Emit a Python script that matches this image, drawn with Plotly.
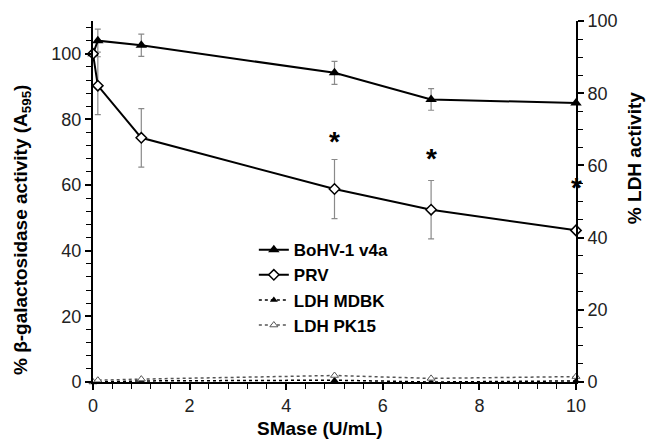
import plotly.graph_objects as go

# ---- data ----
conc = [0, 0.1, 1, 5, 7, 10]
bohv = [100, 104, 102.6, 94.2, 86.1, 85.0]
bohv_err = [0, 3.5, 3.4, 3.5, 3.3, 0]
prv = [100, 90.3, 74.4, 58.8, 52.5, 46.2]
prv_err = [0, 8.8, 8.9, 9.0, 8.9, 0]
ldh_mdbk = [0, 0, 0.3, 0.5, 0, 0.3]
ldh_pk15 = [0, 0.5, 0.8, 1.8, 1.0, 1.5]
star_x = [5, 7, 10]
star_y = [74, 68.8, 60]

FONT = "Liberation Sans, Arial, sans-serif"
ERRC = "#8a8a8a"

fig = go.Figure()

fig.add_trace(go.Scatter(
    x=conc, y=bohv, name="BoHV-1 v4a", mode="lines+markers", legendgroup="a",
    line=dict(color="black", width=2),
    marker=dict(symbol="triangle-up", size=10, color="black"),
    error_y=dict(type="data", array=bohv_err, color=ERRC, thickness=1.2, width=3),
    cliponaxis=False, yaxis="y"))

fig.add_trace(go.Scatter(
    x=conc, y=prv, name="PRV", mode="lines+markers", legendgroup="b",
    line=dict(color="black", width=2),
    marker=dict(symbol="diamond", size=8, color="white", line=dict(color="black", width=1.5)),
    error_y=dict(type="data", array=prv_err, color=ERRC, thickness=1.2, width=3),
    cliponaxis=False, yaxis="y"))

fig.add_trace(go.Scatter(
    x=conc, y=ldh_mdbk, name="LDH MDBK", mode="lines+markers", legendgroup="c",
    line=dict(color="black", width=1.5, dash="dot"),
    marker=dict(symbol="triangle-up", size=7, color="black"),
    cliponaxis=False, yaxis="y2"))

fig.add_trace(go.Scatter(
    x=conc, y=ldh_pk15, name="LDH PK15", mode="lines+markers", legendgroup="d",
    line=dict(color="#555555", width=1.5, dash="dot"),
    marker=dict(symbol="triangle-up", size=7, color="white", line=dict(color="#555555", width=1)),
    cliponaxis=False, yaxis="y2"))

axis_common = dict(showline=True, linecolor="black", linewidth=2, showgrid=False,
                   zeroline=False, ticks="outside", ticklen=6, tickwidth=1.5,
                   tickcolor="black", tickfont=dict(family=FONT, size=18, color="#222"))

annotations = [
    dict(text="% β-galactosidase activity (A<sub>595</sub>)", xref="paper", yref="paper",
         x=-0.147, y=0.421, xanchor="center", yanchor="middle", textangle=-90,
         showarrow=False, font=dict(family=FONT, size=19, color="black", weight="bold")),
    dict(text="% LDH activity", xref="paper", yref="paper",
         x=1.12, y=0.62, xanchor="center", yanchor="middle", textangle=-90,
         showarrow=False, font=dict(family=FONT, size=19, color="black", weight="bold")),
    dict(text="SMase (U/mL)", xref="paper", yref="paper",
         x=0.47, y=-0.13, xanchor="center", yanchor="middle",
         showarrow=False, font=dict(family=FONT, size=19, color="black", weight="bold")),
]
for sx, sy in zip(star_x, star_y):
    annotations.append(dict(text="*", xref="x", yref="y", x=sx, y=sy,
                            xanchor="center", yanchor="middle", yshift=-2, showarrow=False,
                            font=dict(family=FONT, size=28, color="black", weight="bold")))

fig.update_layout(
    width=648, height=442,
    margin=dict(l=93, r=72, t=21, b=60),
    paper_bgcolor="white", plot_bgcolor="white",
    font=dict(family=FONT, color="black"),
    xaxis=dict(range=[0, 10], dtick=2, tick0=0,
               minor=dict(dtick=0.4, ticks="outside", ticklen=5, tickwidth=1.2, tickcolor="black"),
               **axis_common),
    yaxis=dict(range=[0, 110], dtick=20, tick0=0,
               minor=dict(dtick=4, ticks="outside", ticklen=5, tickwidth=1.2, tickcolor="black"),
               **axis_common),
    yaxis2=dict(range=[0, 100], dtick=20, tick0=0, overlaying="y", side="right",
                minor=dict(dtick=5, ticks="outside", ticklen=5, tickwidth=1.2, tickcolor="black"),
                **axis_common),
    legend=dict(x=0.333, y=0.415, xanchor="left", yanchor="top",
                font=dict(family=FONT, size=17, color="black", weight="bold"),
                bgcolor="rgba(0,0,0,0)", tracegroupgap=0, itemwidth=30),
    showlegend=True,
    annotations=annotations,
)

fig.write_html("out.html", config={"displayModeBar": False},
               post_script="document.body.style.margin='0';document.body.style.overflow='hidden';")
